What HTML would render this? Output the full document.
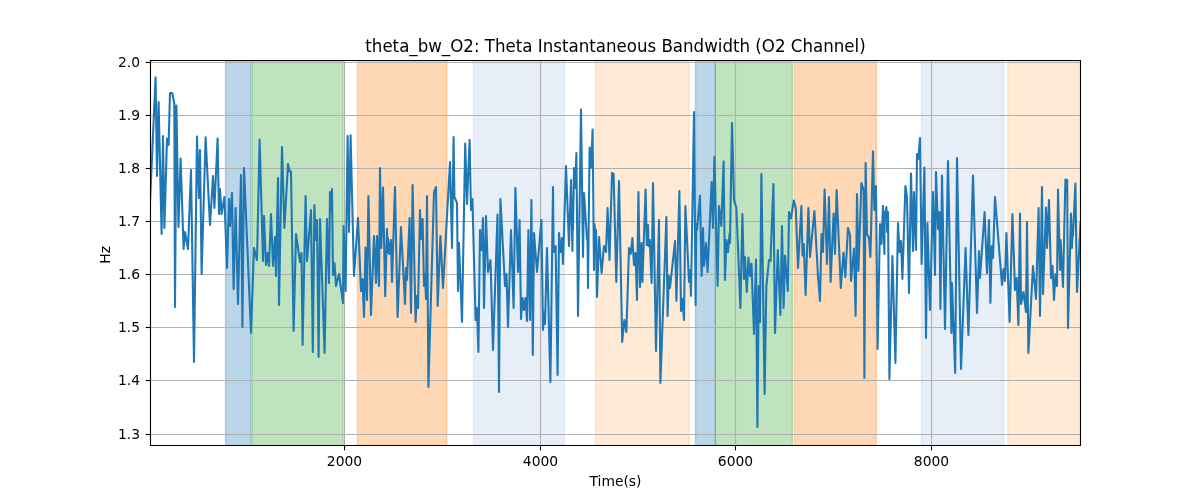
<!DOCTYPE html>
<html><head><meta charset="utf-8"><style>html,body{margin:0;padding:0;background:#fff;width:1200px;height:500px;overflow:hidden}svg{display:block;will-change:transform}</style></head><body>
<svg width="1200" height="500" viewBox="0 0 864 360" version="1.1">
 
 <defs>
  <style type="text/css">*{stroke-linejoin: round; stroke-linecap: butt}</style>
 </defs>
 <g id="figure_1">
  <g id="patch_1">
   <path d="M 0 360 
L 864 360 
L 864 0 
L 0 0 
z
" style="fill: #ffffff"/>
  </g>
  <g id="axes_1">
   <g id="patch_2">
    <path d="M 108.36 320.76 
L 777.96 320.76 
L 777.96 43.56 
L 108.36 43.56 
z
" style="fill: #ffffff"/>
   </g>
   <g id="patch_3">
    <path d="M 162.432 320.76 
L 180.792 320.76 
L 180.792 43.56 
L 162.432 43.56 
z
" clip-path="url(#p8446f2e793)" style="fill: #1f77b4; fill-opacity: 0.3; stroke: #1f77b4; stroke-opacity: 0.3; stroke-linejoin: miter"/>
   </g>
   <g id="patch_4">
    <path d="M 181.656 320.76 
L 247.032 320.76 
L 247.032 43.56 
L 181.656 43.56 
z
" clip-path="url(#p8446f2e793)" style="fill: #2ca02c; fill-opacity: 0.3; stroke: #2ca02c; stroke-opacity: 0.3; stroke-linejoin: miter"/>
   </g>
   <g id="patch_5">
    <path d="M 257.4 320.76 
L 321.768 320.76 
L 321.768 43.56 
L 257.4 43.56 
z
" clip-path="url(#p8446f2e793)" style="fill: #ff7f0e; fill-opacity: 0.3; stroke: #ff7f0e; stroke-opacity: 0.3; stroke-linejoin: miter"/>
   </g>
   <g id="patch_6">
    <path d="M 340.92 320.76 
L 406.368 320.76 
L 406.368 43.56 
L 340.92 43.56 
z
" clip-path="url(#p8446f2e793)" style="fill: #aec7e8; fill-opacity: 0.3; stroke: #aec7e8; stroke-opacity: 0.3; stroke-linejoin: miter"/>
   </g>
   <g id="patch_7">
    <path d="M 428.688 320.76 
L 496.08 320.76 
L 496.08 43.56 
L 428.688 43.56 
z
" clip-path="url(#p8446f2e793)" style="fill: #ffbb78; fill-opacity: 0.3; stroke: #ffbb78; stroke-opacity: 0.3; stroke-linejoin: miter"/>
   </g>
   <g id="patch_8">
    <path d="M 500.76 320.76 
L 515.016 320.76 
L 515.016 43.56 
L 500.76 43.56 
z
" clip-path="url(#p8446f2e793)" style="fill: #1f77b4; fill-opacity: 0.3; stroke: #1f77b4; stroke-opacity: 0.3; stroke-linejoin: miter"/>
   </g>
   <g id="patch_9">
    <path d="M 515.016 320.76 
L 570.528 320.76 
L 570.528 43.56 
L 515.016 43.56 
z
" clip-path="url(#p8446f2e793)" style="fill: #2ca02c; fill-opacity: 0.3; stroke: #2ca02c; stroke-opacity: 0.3; stroke-linejoin: miter"/>
   </g>
   <g id="patch_10">
    <path d="M 572.04 320.76 
L 630.936 320.76 
L 630.936 43.56 
L 572.04 43.56 
z
" clip-path="url(#p8446f2e793)" style="fill: #ff7f0e; fill-opacity: 0.3; stroke: #ff7f0e; stroke-opacity: 0.3; stroke-linejoin: miter"/>
   </g>
   <g id="patch_11">
    <path d="M 663.408 320.76 
L 722.808 320.76 
L 722.808 43.56 
L 663.408 43.56 
z
" clip-path="url(#p8446f2e793)" style="fill: #aec7e8; fill-opacity: 0.3; stroke: #aec7e8; stroke-opacity: 0.3; stroke-linejoin: miter"/>
   </g>
   <g id="patch_12">
    <path d="M 725.616 320.76 
L 781.2 320.76 
L 781.2 43.56 
L 725.616 43.56 
z
" clip-path="url(#p8446f2e793)" style="fill: #ffbb78; fill-opacity: 0.3; stroke: #ffbb78; stroke-opacity: 0.3; stroke-linejoin: miter"/>
   </g>
   <g id="matplotlib.axis_1">
    <g id="xtick_1">
     <g id="line2d_1">
      <path d="M 248.04 320.76 
L 248.04 43.56 
" clip-path="url(#p8446f2e793)" style="fill: none; stroke: #b0b0b0; stroke-width: 0.8; stroke-linecap: square"/>
     </g>
     <g id="line2d_2">
      <defs>
       <path id="m1504cfccaf" d="M 0 0 
L 0 3.5 
" style="stroke: #000000; stroke-width: 0.8"/>
      </defs>
      <g>
       <use href="#m1504cfccaf" x="248.04" y="320.76" style="stroke: #000000; stroke-width: 0.8"/>
      </g>
     </g>
     <g id="text_1">
      <text style="font-size: 10px; font-family: 'DejaVu Sans', sans-serif; text-anchor: middle" x="248.04" y="335.358437" transform="rotate(-0 248.04 335.358437)">2000</text>
     </g>
    </g>
    <g id="xtick_2">
     <g id="line2d_3">
      <path d="M 389.16 320.76 
L 389.16 43.56 
" clip-path="url(#p8446f2e793)" style="fill: none; stroke: #b0b0b0; stroke-width: 0.8; stroke-linecap: square"/>
     </g>
     <g id="line2d_4">
      <g>
       <use href="#m1504cfccaf" x="389.16" y="320.76" style="stroke: #000000; stroke-width: 0.8"/>
      </g>
     </g>
     <g id="text_2">
      <text style="font-size: 10px; font-family: 'DejaVu Sans', sans-serif; text-anchor: middle" x="389.16" y="335.358437" transform="rotate(-0 389.16 335.358437)">4000</text>
     </g>
    </g>
    <g id="xtick_3">
     <g id="line2d_5">
      <path d="M 529.56 320.76 
L 529.56 43.56 
" clip-path="url(#p8446f2e793)" style="fill: none; stroke: #b0b0b0; stroke-width: 0.8; stroke-linecap: square"/>
     </g>
     <g id="line2d_6">
      <g>
       <use href="#m1504cfccaf" x="529.56" y="320.76" style="stroke: #000000; stroke-width: 0.8"/>
      </g>
     </g>
     <g id="text_3">
      <text style="font-size: 10px; font-family: 'DejaVu Sans', sans-serif; text-anchor: middle" x="529.56" y="335.358437" transform="rotate(-0 529.56 335.358437)">6000</text>
     </g>
    </g>
    <g id="xtick_4">
     <g id="line2d_7">
      <path d="M 670.68 320.76 
L 670.68 43.56 
" clip-path="url(#p8446f2e793)" style="fill: none; stroke: #b0b0b0; stroke-width: 0.8; stroke-linecap: square"/>
     </g>
     <g id="line2d_8">
      <g>
       <use href="#m1504cfccaf" x="670.68" y="320.76" style="stroke: #000000; stroke-width: 0.8"/>
      </g>
     </g>
     <g id="text_4">
      <text style="font-size: 10px; font-family: 'DejaVu Sans', sans-serif; text-anchor: middle" x="670.68" y="335.358437" transform="rotate(-0 670.68 335.358437)">8000</text>
     </g>
    </g>
    <g id="text_5" transform="translate(0.000 0.720)">
     <text style="font-size: 10px; font-family: 'DejaVu Sans', sans-serif; text-anchor: middle" x="443.16" y="349.036563" transform="rotate(-0 443.16 349.036563)">Time(s)</text>
    </g>
   </g>
   <g id="matplotlib.axis_2">
    <g id="ytick_1">
     <g id="line2d_9">
      <path d="M 108.36 45 
L 777.96 45 
" clip-path="url(#p8446f2e793)" style="fill: none; stroke: #b0b0b0; stroke-width: 0.8; stroke-linecap: square"/>
     </g>
     <g id="line2d_10">
      <defs>
       <path id="m5d545ce8f8" d="M 0 0 
L -3.5 0 
" style="stroke: #000000; stroke-width: 0.8"/>
      </defs>
      <g>
       <use href="#m5d545ce8f8" x="108.36" y="45" style="stroke: #000000; stroke-width: 0.8"/>
      </g>
     </g>
     <g id="text_6" transform="translate(-0.504 -0.576)">
      <text style="font-size: 10px; font-family: 'DejaVu Sans', sans-serif; text-anchor: end" x="101.36" y="48.799219" transform="rotate(-0 101.36 48.799219)">2.0</text>
     </g>
    </g>
    <g id="ytick_2">
     <g id="line2d_11">
      <path d="M 108.36 83.16 
L 777.96 83.16 
" clip-path="url(#p8446f2e793)" style="fill: none; stroke: #b0b0b0; stroke-width: 0.8; stroke-linecap: square"/>
     </g>
     <g id="line2d_12">
      <g>
       <use href="#m5d545ce8f8" x="108.36" y="83.16" style="stroke: #000000; stroke-width: 0.8"/>
      </g>
     </g>
     <g id="text_7" transform="translate(-0.504 -0.576)">
      <text style="font-size: 10px; font-family: 'DejaVu Sans', sans-serif; text-anchor: end" x="101.36" y="86.959219" transform="rotate(-0 101.36 86.959219)">1.9</text>
     </g>
    </g>
    <g id="ytick_3">
     <g id="line2d_13">
      <path d="M 108.36 121.32 
L 777.96 121.32 
" clip-path="url(#p8446f2e793)" style="fill: none; stroke: #b0b0b0; stroke-width: 0.8; stroke-linecap: square"/>
     </g>
     <g id="line2d_14">
      <g>
       <use href="#m5d545ce8f8" x="108.36" y="121.32" style="stroke: #000000; stroke-width: 0.8"/>
      </g>
     </g>
     <g id="text_8" transform="translate(-0.504 -0.576)">
      <text style="font-size: 10px; font-family: 'DejaVu Sans', sans-serif; text-anchor: end" x="101.36" y="125.119219" transform="rotate(-0 101.36 125.119219)">1.8</text>
     </g>
    </g>
    <g id="ytick_4">
     <g id="line2d_15">
      <path d="M 108.36 159.48 
L 777.96 159.48 
" clip-path="url(#p8446f2e793)" style="fill: none; stroke: #b0b0b0; stroke-width: 0.8; stroke-linecap: square"/>
     </g>
     <g id="line2d_16">
      <g>
       <use href="#m5d545ce8f8" x="108.36" y="159.48" style="stroke: #000000; stroke-width: 0.8"/>
      </g>
     </g>
     <g id="text_9" transform="translate(-0.504 -0.576)">
      <text style="font-size: 10px; font-family: 'DejaVu Sans', sans-serif; text-anchor: end" x="101.36" y="163.279219" transform="rotate(-0 101.36 163.279219)">1.7</text>
     </g>
    </g>
    <g id="ytick_5">
     <g id="line2d_17">
      <path d="M 108.36 197.64 
L 777.96 197.64 
" clip-path="url(#p8446f2e793)" style="fill: none; stroke: #b0b0b0; stroke-width: 0.8; stroke-linecap: square"/>
     </g>
     <g id="line2d_18">
      <g>
       <use href="#m5d545ce8f8" x="108.36" y="197.64" style="stroke: #000000; stroke-width: 0.8"/>
      </g>
     </g>
     <g id="text_10" transform="translate(-0.504 -0.576)">
      <text style="font-size: 10px; font-family: 'DejaVu Sans', sans-serif; text-anchor: end" x="101.36" y="201.439219" transform="rotate(-0 101.36 201.439219)">1.6</text>
     </g>
    </g>
    <g id="ytick_6">
     <g id="line2d_19">
      <path d="M 108.36 235.8 
L 777.96 235.8 
" clip-path="url(#p8446f2e793)" style="fill: none; stroke: #b0b0b0; stroke-width: 0.8; stroke-linecap: square"/>
     </g>
     <g id="line2d_20">
      <g>
       <use href="#m5d545ce8f8" x="108.36" y="235.8" style="stroke: #000000; stroke-width: 0.8"/>
      </g>
     </g>
     <g id="text_11" transform="translate(-0.504 -0.576)">
      <text style="font-size: 10px; font-family: 'DejaVu Sans', sans-serif; text-anchor: end" x="101.36" y="239.599219" transform="rotate(-0 101.36 239.599219)">1.5</text>
     </g>
    </g>
    <g id="ytick_7">
     <g id="line2d_21">
      <path d="M 108.36 273.96 
L 777.96 273.96 
" clip-path="url(#p8446f2e793)" style="fill: none; stroke: #b0b0b0; stroke-width: 0.8; stroke-linecap: square"/>
     </g>
     <g id="line2d_22">
      <g>
       <use href="#m5d545ce8f8" x="108.36" y="273.96" style="stroke: #000000; stroke-width: 0.8"/>
      </g>
     </g>
     <g id="text_12" transform="translate(-0.504 -0.576)">
      <text style="font-size: 10px; font-family: 'DejaVu Sans', sans-serif; text-anchor: end" x="101.36" y="277.759219" transform="rotate(-0 101.36 277.759219)">1.4</text>
     </g>
    </g>
    <g id="ytick_8">
     <g id="line2d_23">
      <path d="M 108.36 312.84 
L 777.96 312.84 
" clip-path="url(#p8446f2e793)" style="fill: none; stroke: #b0b0b0; stroke-width: 0.8; stroke-linecap: square"/>
     </g>
     <g id="line2d_24">
      <g>
       <use href="#m5d545ce8f8" x="108.36" y="312.84" style="stroke: #000000; stroke-width: 0.8"/>
      </g>
     </g>
     <g id="text_13" transform="translate(-0.504 -0.576)">
      <text style="font-size: 10px; font-family: 'DejaVu Sans', sans-serif; text-anchor: end" x="101.36" y="316.639219" transform="rotate(-0 101.36 316.639219)">1.3</text>
     </g>
    </g>
    <g id="text_14" transform="translate(0.000 1.296)">
     <text style="font-size: 10px; font-family: 'DejaVu Sans', sans-serif; text-anchor: middle" x="79.377188" y="182.16" transform="rotate(-90 79.377188 182.16)">Hz</text>
    </g>
   </g>
   <g id="line2d_25">
    <path d="M 108 145.44 
L 112.032 55.728 
L 113.04 126.72 
L 114.192 73.44 
L 116.352 168.48 
L 117.36 97.92 
L 118.368 164.16 
L 120.24 99.792 
L 121.392 104.4 
L 122.4 66.96 
L 123.984 66.96 
L 125.496 74.52 
L 126 221.04 
L 127.008 75.96 
L 128.52 163.44 
L 130.032 114.192 
L 132.192 179.28 
L 133.2 167.04 
L 135.36 179.28 
L 137.52 122.4 
L 139.68 260.64 
L 141.84 98.352 
L 143.28 142.56 
L 144 108 
L 145.152 197.28 
L 148.032 98.928 
L 151.2 162 
L 153.36 126.72 
L 154.368 149.76 
L 156.672 99.792 
L 157.68 154.08 
L 158.4 136.08 
L 159.552 154.08 
L 161.568 141.84 
L 163.44 192.96 
L 164.88 143.28 
L 165.6 162.72 
L 167.04 138.96 
L 168.192 208.08 
L 169.632 149.76 
L 171.36 218.88 
L 173.52 126 
L 174.528 235.44 
L 175.68 120.96 
L 180.72 239.76 
L 182.88 178.56 
L 185.04 187.2 
L 186.912 100.512 
L 189.36 187.92 
L 190.08 155.52 
L 191.52 190.8 
L 192.6 182.16 
L 193.68 191.52 
L 195.12 154.08 
L 196.56 191.52 
L 198 170.64 
L 198.72 198.72 
L 200.16 128.16 
L 200.88 219.6 
L 203.04 105.84 
L 204.768 164.16 
L 207.36 118.08 
L 208.512 123.48 
L 209.52 123.48 
L 211.392 238.32 
L 213.12 168.48 
L 216 188.64 
L 217.08 182.16 
L 217.872 248.4 
L 220.032 141.12 
L 221.04 187.92 
L 223.92 151.2 
L 225.216 253.44 
L 226.368 147.6 
L 227.304 172.8 
L 228.24 158.4 
L 229.392 257.04 
L 230.4 157.68 
L 233.712 254.16 
L 235.44 157.68 
L 236.88 203.76 
L 237.6 138.24 
L 238.32 152.64 
L 239.04 136.08 
L 239.76 198 
L 240.84 189.36 
L 241.92 205.92 
L 244.08 197.28 
L 246.96 218.16 
L 247.392 162.72 
L 248.832 209.52 
L 250.272 97.92 
L 251.28 167.04 
L 252.432 97.488 
L 254.88 198.72 
L 257.76 156.96 
L 259.92 209.52 
L 261 200.88 
L 262.08 228.24 
L 263.16 178.2 
L 264.24 216 
L 265.248 141.12 
L 267.12 226.8 
L 269.28 169.92 
L 270.72 203.76 
L 271.44 169.92 
L 272.88 205.92 
L 273.6 120.96 
L 274.536 178.56 
L 275.76 135 
L 277.344 213.264 
L 278.64 164.88 
L 279 181.44 
L 279.36 171.36 
L 280.08 182.88 
L 281.52 172.8 
L 282.24 203.04 
L 284.4 134.64 
L 286.272 228.24 
L 288.72 163.44 
L 291.6 218.88 
L 292.32 192.96 
L 293.04 201.6 
L 294.912 156.96 
L 295.92 225.36 
L 297.072 133.2 
L 299.232 231.84 
L 300.096 213.12 
L 300.96 221.76 
L 302.4 151.2 
L 303.12 172.08 
L 304.272 157.68 
L 305.28 205.92 
L 306 197.28 
L 306.72 215.28 
L 307.44 141.12 
L 308.448 278.64 
L 312.48 138.24 
L 313.92 134.64 
L 315.144 220.32 
L 317.088 169.92 
L 318.96 207.36 
L 324 116.64 
L 325.44 178.56 
L 326.592 98.64 
L 327.168 141.84 
L 329.04 146.16 
L 329.76 209.52 
L 330.48 174.96 
L 332.64 231.84 
L 334.944 103.392 
L 336.24 146.88 
L 338.112 100.8 
L 339.12 151.2 
L 340.128 143.28 
L 342.432 230.4 
L 343.44 221.76 
L 344.448 253.44 
L 345.6 165.6 
L 346.68 180 
L 347.76 156.96 
L 348.48 221.76 
L 349.92 155.52 
L 351.36 195.84 
L 353.16 187.2 
L 354.96 252 
L 358.2 154.44 
L 359.28 282.24 
L 360.288 143.28 
L 363.6 205.92 
L 364.68 197.28 
L 365.76 235.44 
L 367.92 165.6 
L 369.792 221.76 
L 371.088 135.36 
L 372.96 195.84 
L 374.112 158.4 
L 375.12 229.68 
L 376.2 214.56 
L 377.28 223.2 
L 378.36 214.56 
L 379.44 231.12 
L 380.448 165.6 
L 381.6 230.4 
L 382.608 144 
L 383.616 255.6 
L 384.48 167.76 
L 386.64 195.84 
L 389.808 158.4 
L 390.96 237.6 
L 391.68 224.64 
L 392.4 233.28 
L 393.84 178.56 
L 396.288 275.04 
L 398.16 134.64 
L 398.592 181.44 
L 400.032 177.12 
L 401.472 270 
L 402.48 167.76 
L 403.56 181.44 
L 404.64 171.36 
L 405.36 190.08 
L 407.52 119.52 
L 409.68 177.12 
L 411.12 129.6 
L 412.128 180.72 
L 412.344 161.28 
L 412.56 165.6 
L 413.28 120.96 
L 414.144 135.36 
L 415.008 110.16 
L 416.16 227.52 
L 418.32 78.912 
L 419.76 185.04 
L 420.48 138.96 
L 422.64 172.8 
L 423 168.48 
L 423.36 207.36 
L 424.512 106.272 
L 425.592 120.672 
L 426.672 93.312 
L 427.68 194.4 
L 428.04 161.28 
L 428.4 165.6 
L 429.12 165.6 
L 429.84 213.84 
L 431.28 170.64 
L 433.152 196.56 
L 434.88 177.12 
L 436.32 181.44 
L 437.472 149.76 
L 438.84 187.2 
L 440.64 124.56 
L 441.792 125.28 
L 443.736 203.04 
L 445.68 130.32 
L 447.984 246.24 
L 449.496 230.4 
L 451.008 239.04 
L 452.88 178.56 
L 454.104 182.88 
L 455.328 171.36 
L 456.48 190.8 
L 457.56 182.16 
L 458.64 216 
L 459.648 138.24 
L 460.8 206.64 
L 461.808 174.96 
L 462.528 203.04 
L 464.832 136.512 
L 465.696 176.4 
L 466.56 162 
L 466.92 177.12 
L 467.856 172.8 
L 469.152 203.76 
L 470.16 131.76 
L 472.32 252.72 
L 474.48 158.4 
L 475.488 275.76 
L 479.808 156.24 
L 480.672 227.52 
L 481.536 198.72 
L 482.4 207.36 
L 486 173.52 
L 487.008 216.72 
L 489.168 137.52 
L 490.32 223.92 
L 491.4 215.28 
L 492.48 230.4 
L 493.488 148.32 
L 496.08 203.04 
L 496.8 194.4 
L 497.52 213.12 
L 499.68 80.64 
L 500.832 219.6 
L 501.336 161.28 
L 501.84 165.6 
L 504 140.832 
L 505.152 198.72 
L 506.16 164.16 
L 506.88 191.52 
L 508.32 174.96 
L 509.472 195.84 
L 512.352 131.04 
L 513.36 164.16 
L 514.368 113.04 
L 516.672 205.92 
L 517.68 148.32 
L 519.336 162.72 
L 520.992 116.352 
L 522 201.6 
L 523.008 172.8 
L 524.16 181.44 
L 525.312 168.192 
L 525.6 174.96 
L 527.04 88.56 
L 528.48 144 
L 530.208 149.76 
L 533.088 221.76 
L 534.528 154.08 
L 535.68 200.88 
L 536.4 185.04 
L 537.696 210.24 
L 538.92 185.4 
L 540 198.72 
L 541.08 189.72 
L 542.88 240.48 
L 544.32 186.84 
L 545.328 307.44 
L 546.264 205.92 
L 547.2 231.84 
L 548.208 125.28 
L 550.512 283.68 
L 551.736 206.64 
L 553.68 187.2 
L 554.76 187.92 
L 556.848 132.48 
L 558 239.76 
L 560.016 180 
L 561.888 226.8 
L 563.04 162.72 
L 564.192 221.76 
L 565.2 183.96 
L 567.216 209.52 
L 568.08 152.64 
L 569.52 157.32 
L 571.536 144.36 
L 572.976 149.76 
L 574.56 192.96 
L 577.008 148.32 
L 577.8 183.96 
L 578.736 175.68 
L 580.032 212.4 
L 582.048 149.76 
L 583.2 185.04 
L 586.368 151.92 
L 588.96 198.72 
L 590.4 216.72 
L 591.48 168.48 
L 592.56 181.44 
L 593.712 136.512 
L 595.44 190.08 
L 596.88 141.84 
L 598.032 203.04 
L 600.192 153.792 
L 601.2 182.88 
L 602.352 136.8 
L 605.376 207.36 
L 607.32 181.8 
L 608.616 199.44 
L 610.56 164.16 
L 612 169.2 
L 612.72 202.32 
L 614.88 178.92 
L 616.032 227.52 
L 617.04 139.68 
L 618.048 195.12 
L 620.208 131.76 
L 621.792 136.8 
L 622.368 272.16 
L 623.232 117.36 
L 624.24 168.48 
L 625.68 171.36 
L 626.688 185.04 
L 628.56 109.152 
L 629.568 151.2 
L 630.72 133.92 
L 631.872 251.28 
L 633.6 161.28 
L 634.68 175.68 
L 635.76 148.32 
L 636.768 182.88 
L 636.984 152.64 
L 637.2 156.96 
L 638.208 149.04 
L 638.784 167.04 
L 639.36 152.64 
L 640.368 272.88 
L 642.528 184.32 
L 644.688 261.36 
L 646.56 160.56 
L 647.64 181.44 
L 648.72 173.52 
L 649.728 200.88 
L 651.888 133.92 
L 653.04 141.84 
L 654.48 210.96 
L 655.92 124.992 
L 657.36 180.72 
L 658.08 138.24 
L 659.52 180 
L 660.24 110.88 
L 661.176 114.48 
L 662.4 99.36 
L 663.552 190.08 
L 665.568 120.672 
L 666.72 243.36 
L 667.728 160.56 
L 669.6 223.2 
L 671.76 138.24 
L 673.2 198 
L 673.92 123.84 
L 675.36 164.88 
L 676.368 152.64 
L 677.088 222.48 
L 678.24 126.432 
L 680.4 236.88 
L 682.56 115.92 
L 685.008 239.76 
L 685.44 203.76 
L 687.744 268.56 
L 689.04 113.76 
L 691.92 265.68 
L 695.232 178.56 
L 697.248 241.2 
L 700.56 126.432 
L 703.44 225.36 
L 704.88 180.72 
L 705.6 200.16 
L 708.912 152.64 
L 710.64 196.56 
L 712.08 158.4 
L 713.088 218.16 
L 714.024 177.12 
L 714.96 185.76 
L 716.4 141.84 
L 721.44 205.2 
L 722.52 193.68 
L 723.6 202.32 
L 724.608 167.76 
L 726.912 231.84 
L 728.928 154.08 
L 730.8 208.8 
L 732.024 200.16 
L 733.248 234 
L 734.4 153.792 
L 735.12 218.88 
L 736.92 210.24 
L 738.72 224.64 
L 739.44 159.84 
L 740.448 254.16 
L 743.76 191.52 
L 745.92 215.28 
L 747.792 149.76 
L 748.8 227.52 
L 750.24 134.64 
L 750.96 211.68 
L 753.12 149.472 
L 753.84 178.56 
L 755.28 144 
L 756.72 200.16 
L 757.8 191.52 
L 758.88 216 
L 759.96 197.28 
L 761.04 205.92 
L 761.76 136.512 
L 763.2 194.4 
L 763.632 172.8 
L 765.36 206.64 
L 767.088 129.312 
L 768.384 129.6 
L 768.96 236.16 
L 771.12 153.792 
L 771.84 178.56 
L 772.2 165.6 
L 772.56 169.92 
L 774.288 132.192 
L 775.44 210.24 
L 777.96 160.56 
L 777.96 160.56 
" clip-path="url(#p8446f2e793)" style="fill: none; stroke: #1f77b4; stroke-width: 1.5; stroke-linecap: square"/>
   </g>
   <g id="patch_13">
    <path d="M 108.36 320.76 
L 108.36 43.56 
" style="fill: none; stroke: #000000; stroke-width: 0.8; stroke-linejoin: miter; stroke-linecap: square"/>
   </g>
   <g id="patch_14">
    <path d="M 777.96 320.76 
L 777.96 43.56 
" style="fill: none; stroke: #000000; stroke-width: 0.8; stroke-linejoin: miter; stroke-linecap: square"/>
   </g>
   <g id="patch_15">
    <path d="M 108.36 320.76 
L 777.96 320.76 
" style="fill: none; stroke: #000000; stroke-width: 0.8; stroke-linejoin: miter; stroke-linecap: square"/>
   </g>
   <g id="patch_16">
    <path d="M 108.36 43.56 
L 777.96 43.56 
" style="fill: none; stroke: #000000; stroke-width: 0.8; stroke-linejoin: miter; stroke-linecap: square"/>
   </g>
   <g id="text_15" transform="translate(0 -3.005) scale(1 1.08)">
    <text style="font-size: 12px; font-family: 'DejaVu Sans', sans-serif; text-anchor: middle" x="443.16" y="37.56" transform="rotate(-0 443.16 37.56)">theta_bw_O2: Theta Instantaneous Bandwidth (O2 Channel)</text>
   </g>
  </g>
 </g>
 <defs>
  <clipPath id="p8446f2e793">
   <rect x="108.36" y="43.56" width="669.6" height="277.2"/>
  </clipPath>
 </defs>
</svg>

</body></html>
